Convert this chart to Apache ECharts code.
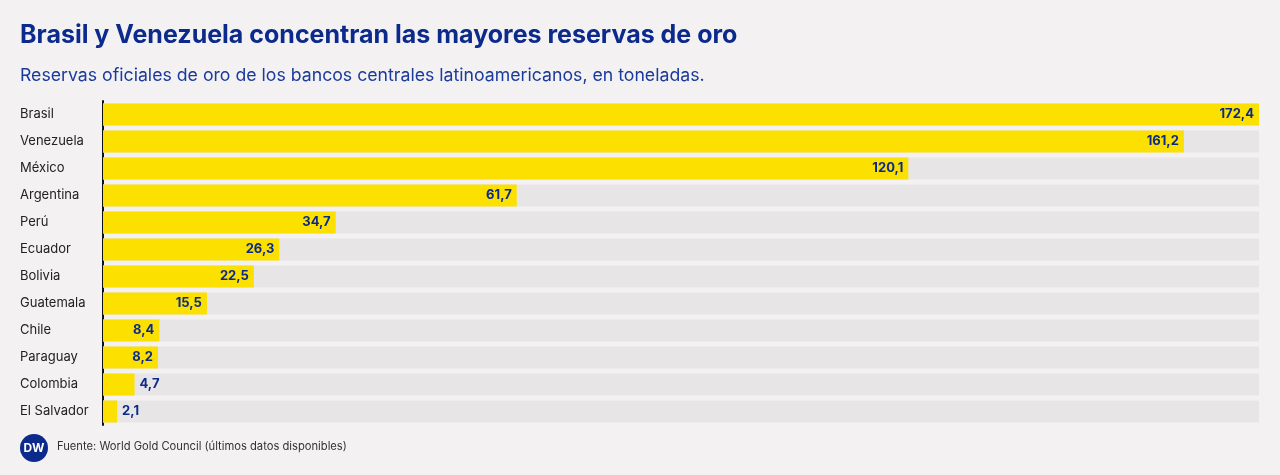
<!DOCTYPE html>
<html lang="es">
<head>
  <meta charset="UTF-8">
  <title>Reservas de oro</title>
  <style>
    html, body { margin: 0; padding: 0; background: #f3f1f2; }
    #chart { width: 1280px; height: 475px; }
  </style>
</head>
<body>
  <div id="chart"></div>
  <script src="https://cdn.jsdelivr.net/npm/echarts@6/dist/echarts.min.js"></script>
  <script>
    // datos
    const paises = ['Brasil', 'Venezuela', 'México', 'Argentina', 'Perú', 'Ecuador', 'Bolivia',
      'Guatemala', 'Chile', 'Paraguay', 'Colombia', 'El Salvador']
    const toneladas = [172.4, 161.2, 120.1, 61.7, 34.7, 26.3, 22.5, 15.5, 8.4, 8.2, 4.7, 2.1]
    const maximo = 172.4

    const azul = '#0b2a8c'
    const fmt = v => String(v).replace('.', ',')

    const chart = echarts.init(document.getElementById('chart'))

    chart.setOption({
      backgroundColor: '#f3f1f2',
      animation: false,
      title: [
        {
          text: 'Brasil y Venezuela concentran las mayores reservas de oro',
          left: 15, top: 18,
          textStyle: { fontFamily: 'Inter', fontSize: 25, fontWeight: 'bold', color: azul }
        },
        {
          text: 'Reservas oficiales de oro de los bancos centrales latinoamericanos, en toneladas.',
          left: 15, top: 62,
          textStyle: { fontFamily: 'Inter', fontSize: 17.7, fontWeight: 'normal', color: '#1a3a9c' }
        },
        {
          text: 'Fuente: World Gold Council (últimos datos disponibles)',
          left: 52, top: 436,
          textStyle: { fontFamily: 'Inter', fontSize: 11.2, fontWeight: 'normal', color: '#333' }
        }
      ],
      graphic: [
        { type: 'circle', shape: { cx: 34, cy: 448, r: 14 }, style: { fill: azul } },
        {
          type: 'text', x: 34, y: 448,
          style: { text: 'DW', fill: '#fff', font: 'bold 12px Inter', align: 'center', verticalAlign: 'middle' }
        }
      ],
      grid: { left: 103, right: 21, top: 101, height: 324 },
      xAxis: { type: 'value', min: 0, max: maximo, show: false },
      yAxis: {
        type: 'category',
        data: paises,
        inverse: true,
        axisTick: { show: false },
        axisLine: { show: true, lineStyle: { color: '#111', width: 2 } },
        axisLabel: {
          align: 'left', margin: 83,
          fontFamily: 'Inter', fontSize: 13, color: '#222'
        }
      },
      series: [{
        type: 'bar',
        data: toneladas.map(v => ({
          value: v,
          label: {
            show: true,
            position: v < 8 ? 'right' : 'insideRight',
            distance: 5,
            formatter: () => fmt(v),
            fontFamily: 'Inter', fontSize: 13, fontWeight: 'bold', color: azul
          }
        })),
        barWidth: 22,
        itemStyle: { color: '#fbe000' },
        showBackground: true,
        backgroundStyle: { color: '#e7e5e6' }
      }]
    })
  </script>
</body>
</html>
